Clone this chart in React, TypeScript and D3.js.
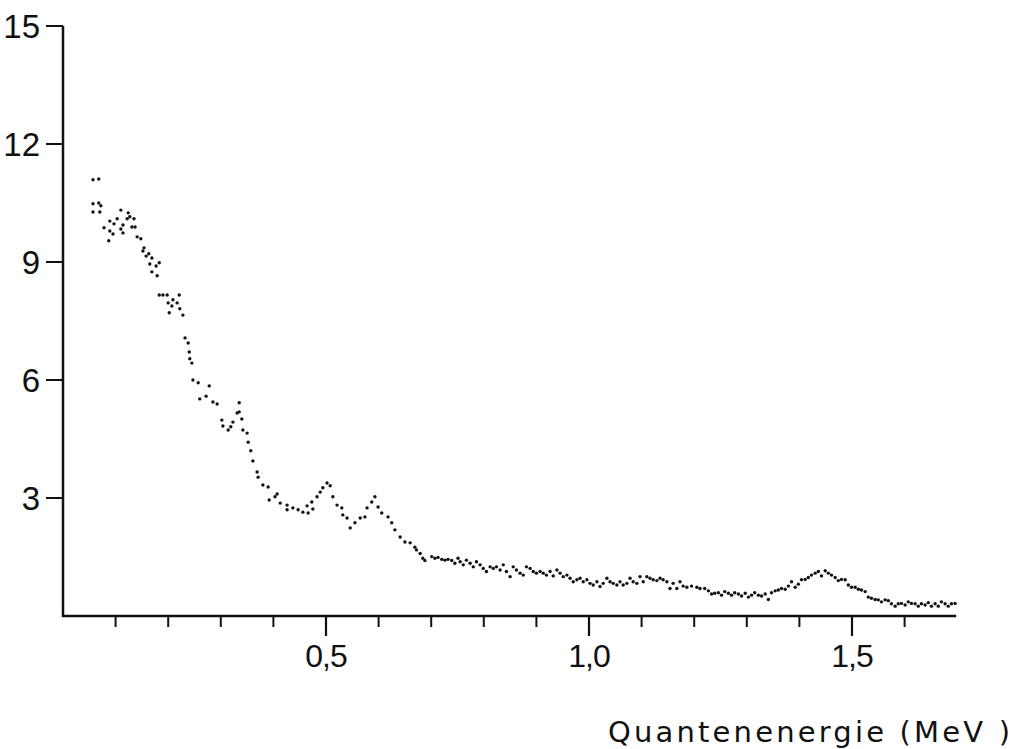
import React from "react";
import * as d3 from "d3";

// Quantenenergie in keV, Zählrate (rel. Einheiten)
const energyA = [57, 68, 57, 57, 68, 72, 70, 78, 87, 89, 89, 95, 97, 103, 110, 110, 114, 114, 122, 124, 127, 135, 131, 137, 141, 148, 154, 152, 158, 163, 169, 165, 177, 183, 169, 179, 183, 190, 198, 221, 200, 209, 207, 217, 222, 202, 228, 232, 238, 240, 241];
const countsA = [11.09, 11.11, 10.48, 10.27, 10.5, 10.43, 10.27, 9.87, 9.54, 10.04, 9.79, 9.71, 9.97, 10.1, 10.32, 9.84, 9.94, 9.74, 10.1, 10.25, 10.15, 10.1, 9.89, 9.89, 9.64, 9.59, 9.36, 9.28, 9.15, 9.21, 9.1, 8.95, 8.9, 8.98, 8.75, 8.65, 8.16, 8.16, 8.16, 8.16, 7.96, 8.04, 7.88, 7.96, 7.81, 7.71, 7.65, 7.07, 6.94, 6.71, 6.54];

const energyB = [245, 247, 257, 278, 260, 272, 285, 293, 302, 304, 314, 319, 323, 331, 335, 335, 340, 342, 350, 352, 357, 361, 369, 371, 380, 390, 392, 403, 407, 413, 426, 426, 437, 447, 456, 466, 464, 473, 475, 483, 489, 494, 502, 508, 513, 521, 530, 532, 540, 546, 555, 565, 574, 578, 587, 593, 599, 606, 618, 625, 631, 641, 650, 660, 669];
const countsB = [6.43, 6.0, 5.93, 5.85, 5.52, 5.59, 5.44, 5.39, 4.98, 4.83, 4.73, 4.81, 4.93, 5.16, 5.42, 5.19, 5.01, 4.73, 4.65, 4.42, 4.2, 3.94, 3.66, 3.53, 3.33, 3.28, 2.95, 3.03, 3.1, 2.87, 2.82, 2.7, 2.75, 2.7, 2.64, 2.62, 2.8, 2.9, 2.72, 3.03, 3.15, 3.26, 3.38, 3.31, 3.03, 2.82, 2.75, 2.57, 2.49, 2.24, 2.37, 2.49, 2.52, 2.75, 2.9, 3.03, 2.77, 2.62, 2.52, 2.37, 2.19, 2.01, 1.88, 1.86, 1.75];

const energyC = [672, 679, 684, 688, 701, 707, 713, 720, 726, 732, 739, 745, 751, 755, 761, 767, 774, 780, 786, 793, 799, 805, 812, 818, 824, 831, 837, 843, 850, 856, 862, 869, 875, 881, 888, 894, 900, 907, 913, 919, 926, 932, 939, 945, 951, 958, 964, 970, 977, 983, 989, 996, 1002, 1008, 1015, 1021, 1027, 1034, 1040, 1046, 1053, 1059, 1065, 1072, 1078, 1084, 1091, 1097, 1103, 1110, 1116, 1122, 1129, 1135, 1141, 1148, 1154, 1160];
const countsC = [1.68, 1.59, 1.47, 1.41, 1.51, 1.47, 1.49, 1.44, 1.42, 1.44, 1.41, 1.34, 1.47, 1.38, 1.3, 1.42, 1.34, 1.25, 1.38, 1.3, 1.21, 1.13, 1.25, 1.21, 1.25, 1.17, 1.3, 1.13, 1.0, 1.25, 1.17, 1.09, 1.04, 1.25, 1.21, 1.13, 1.09, 1.13, 1.09, 1.04, 1.13, 1.02, 1.17, 1.09, 1.0, 1.04, 0.96, 0.87, 0.92, 0.96, 0.87, 0.92, 0.83, 0.79, 0.87, 0.75, 0.83, 0.96, 0.87, 0.83, 0.79, 0.87, 0.79, 0.83, 0.96, 0.87, 0.83, 1.0, 0.87, 1.0, 0.96, 0.92, 0.9, 0.96, 0.92, 0.87, 0.7, 0.83];

const energyD = [1167, 1173, 1179, 1186, 1195, 1205, 1211, 1220, 1227, 1233, 1239, 1246, 1252, 1258, 1265, 1271, 1277, 1284, 1290, 1297, 1303, 1309, 1315, 1322, 1328, 1335, 1341, 1347, 1354, 1360, 1366, 1373, 1379, 1385, 1392, 1398, 1404, 1411, 1417, 1423, 1430, 1436, 1442, 1449, 1455, 1461, 1468, 1474, 1480, 1487, 1493, 1499, 1506, 1512, 1518, 1525, 1531, 1537, 1544, 1550, 1556, 1563, 1569, 1575, 1582, 1588, 1594, 1601, 1607, 1613, 1620, 1626, 1632, 1639, 1645, 1651, 1658, 1664, 1670, 1677, 1683, 1689, 1696];
const countsD = [0.7, 0.87, 0.76, 0.73, 0.76, 0.73, 0.7, 0.7, 0.64, 0.56, 0.58, 0.59, 0.53, 0.62, 0.58, 0.53, 0.59, 0.56, 0.51, 0.58, 0.48, 0.53, 0.59, 0.53, 0.51, 0.56, 0.42, 0.59, 0.64, 0.66, 0.7, 0.68, 0.76, 0.87, 0.73, 0.81, 0.92, 0.93, 0.98, 1.04, 1.09, 1.13, 1.02, 1.15, 1.09, 1.04, 0.98, 0.9, 0.93, 0.92, 0.79, 0.73, 0.73, 0.68, 0.66, 0.62, 0.48, 0.45, 0.42, 0.41, 0.36, 0.41, 0.39, 0.31, 0.25, 0.31, 0.32, 0.28, 0.36, 0.32, 0.31, 0.25, 0.31, 0.28, 0.34, 0.25, 0.31, 0.25, 0.36, 0.31, 0.25, 0.31, 0.32];

const yTicks = [3, 6, 9, 12, 15];
const xMajorTicks = [0.5, 1.0, 1.5];
const xMajorLabels = ["0,5", "1,0", "1,5"];
const xMinorTicks = [0.1, 0.2, 0.3, 0.4, 0.6, 0.7, 0.8, 0.9, 1.1, 1.2, 1.3, 1.4, 1.6];
const xTitle = "Quantenenergie (MeV )";

const energy = [...energyA, ...energyB, ...energyC, ...energyD];
const counts = [...countsA, ...countsB, ...countsC, ...countsD];
const points = energy.map((e, i) => ({ mev: e / 1000, c: counts[i] }));

const W = 1017;
const H = 749;
const X0 = 63;
const Y0 = 616;

export default function App() {
  const x = d3.scaleLinear().domain([0, 1.7]).range([X0, X0 + 1.7 * 526]);
  const y = d3.scaleLinear().domain([0, 15]).range([Y0, 26]);
  const font = "'Liberation Sans', Arial, sans-serif";
  const titleFont = "'DejaVu Sans', sans-serif";
  const ink = "#111";

  return (
    <svg
      width={W}
      height={H}
      viewBox={`0 0 ${W} ${H}`}
      style={{ position: "absolute", left: 0, top: 0, background: "#fff" }}
    >
      <rect x={0} y={0} width={W} height={H} fill="#fff" />
      {/* y axis */}
      <line x1={X0} x2={X0} y1={y(15)} y2={Y0 + 1} stroke={ink} strokeWidth={2.5} />
      {yTicks.map((t) => (
        <g key={"yt" + t}>
          <line x1={X0 - 17} x2={X0} y1={y(t)} y2={y(t)} stroke={ink} strokeWidth={2} />
          <text
            x={40}
            y={y(t)}
            dy="0.36em"
            textAnchor="end"
            fontFamily={font}
            fontSize={33}
            fill={ink}
          >
            {t}
          </text>
        </g>
      ))}
      {/* x axis */}
      <line x1={X0 - 1} x2={x(1.7) - 1} y1={Y0} y2={Y0} stroke={ink} strokeWidth={2.5} />
      {xMinorTicks.map((t) => (
        <line key={"xm" + t} x1={x(t)} x2={x(t)} y1={Y0} y2={Y0 + 11} stroke={ink} strokeWidth={2} />
      ))}
      {xMajorTicks.map((t, i) => (
        <g key={"xM" + t}>
          <line x1={x(t)} x2={x(t)} y1={Y0} y2={Y0 + 20} stroke={ink} strokeWidth={2.2} />
          <text
            x={x(t)}
            y={667}
            textAnchor="middle"
            fontFamily={font}
            fontSize={32}
            letterSpacing={-1}
            fill={ink}
          >
            {xMajorLabels[i]}
          </text>
        </g>
      ))}
      <text
        x={608}
        y={742}
        fontFamily={titleFont}
        fontSize={29}
        textLength={402}
        lengthAdjust="spacing"
        fill={ink}
      >
        {xTitle}
      </text>
      {/* data */}
      {points.map((p, i) => (
        <circle key={"p" + i} cx={x(p.mev)} cy={y(p.c)} r={1.7} fill={ink} />
      ))}
    </svg>
  );
}
